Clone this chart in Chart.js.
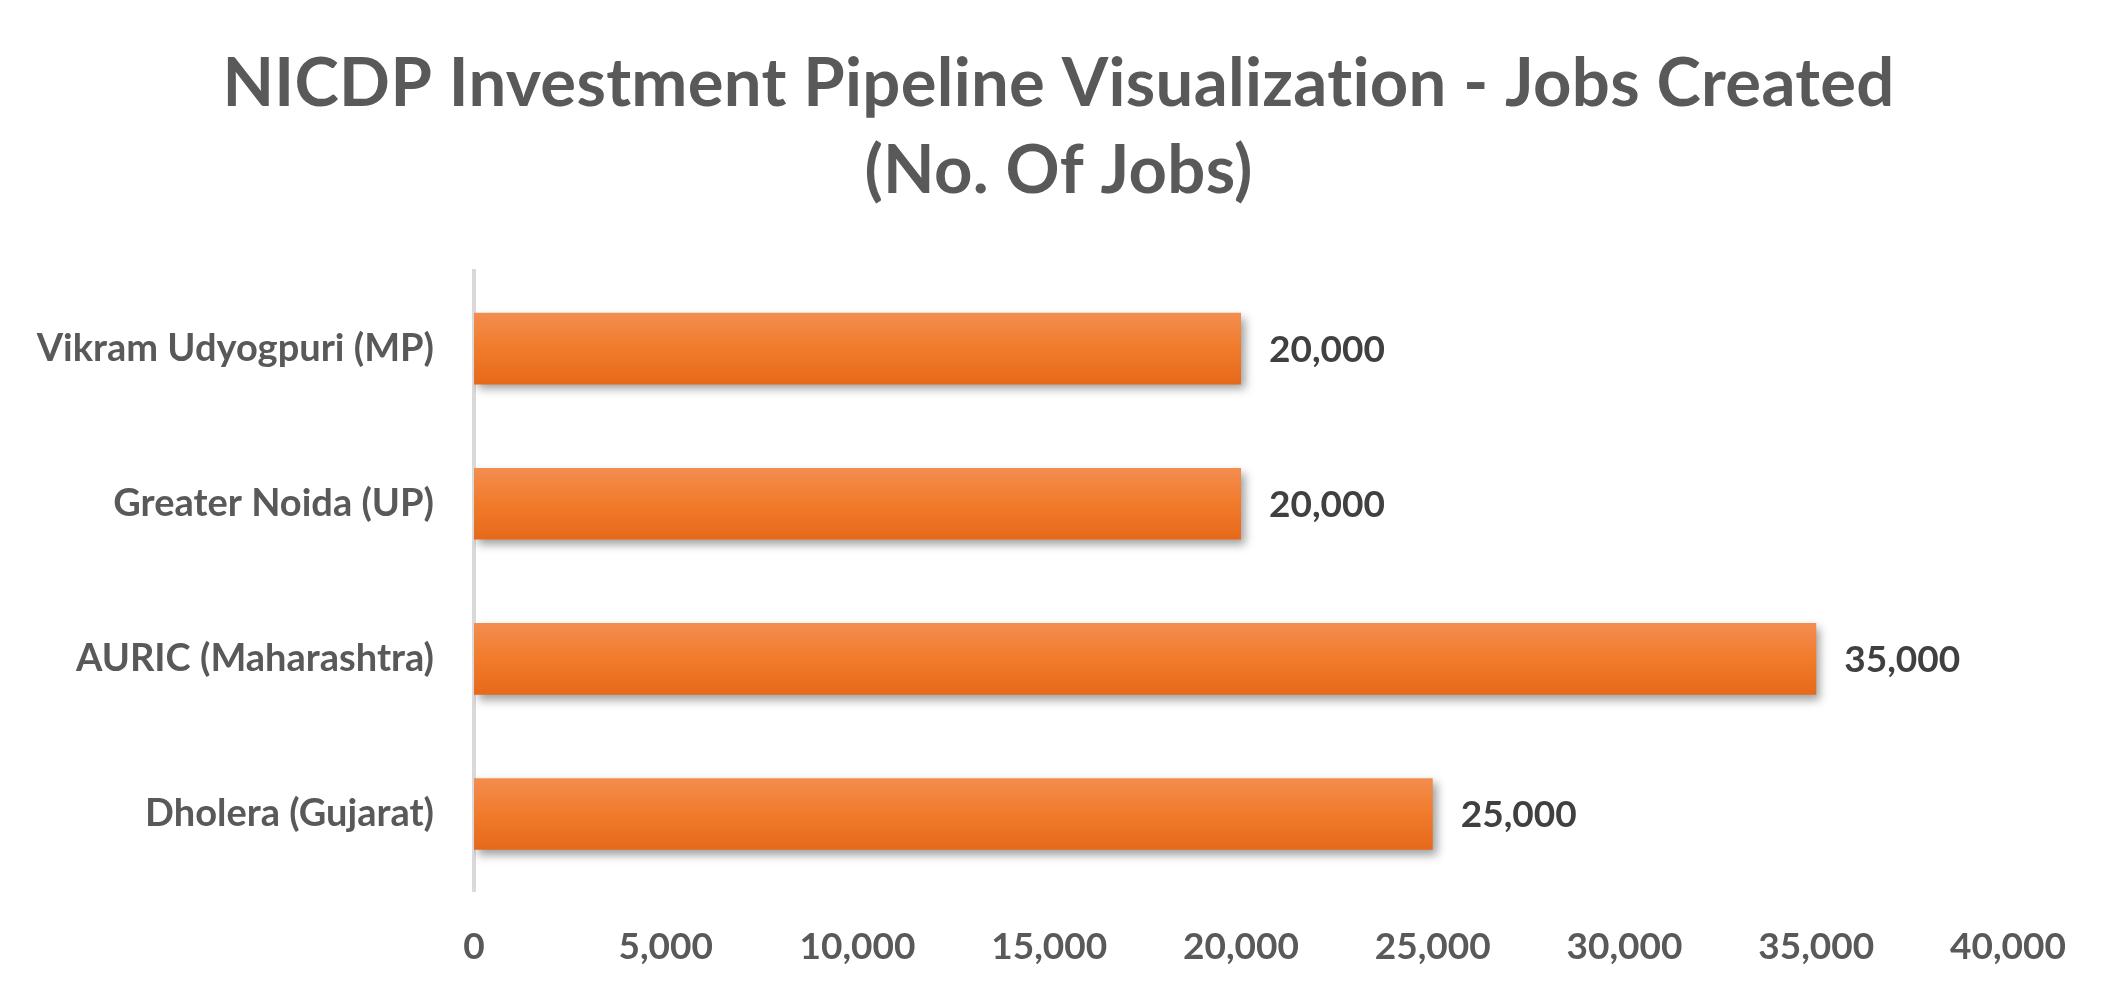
<!DOCTYPE html>
<html>
<head>
<meta charset="utf-8">
<script src="https://cdn.jsdelivr.net/npm/chart.js@4"></script>
<style>
  html, body { margin: 0; padding: 0; background: #ffffff; }
  #wrap { width: 2117px; height: 1002px; }
</style>
</head>
<body>
<div id="wrap"><canvas id="c" width="2117" height="1002"></canvas></div>
<script>
const categories = ["Vikram Udyogpuri (MP)", "Greater Noida (UP)", "AURIC (Maharashtra)", "Dholera (Gujarat)"];
const jobsCreated = [20000, 20000, 35000, 25000];
const titleLines = ["NICDP Investment Pipeline Visualization - Jobs Created", "(No. Of Jobs)"];
const xMin = 0, xMax = 40000, xStep = 5000;

function fmt(v) { return Number(v).toLocaleString('en-US'); }

const decorPlugin = {
  id: 'decor',
  beforeDatasetsDraw(chart) {
    const ctx = chart.ctx;
    ctx.save();
    ctx.shadowColor = 'rgba(0,0,0,0.38)';
    ctx.shadowBlur = 9;
    ctx.shadowOffsetX = 4;
    ctx.shadowOffsetY = 5;
  },
  afterDatasetsDraw(chart) {
    chart.ctx.restore();
    const ctx = chart.ctx;
    const meta = chart.getDatasetMeta(0);
    ctx.save();
    ctx.font = 'bold 37px Lato';
    ctx.fillStyle = '#404040';
    ctx.textAlign = 'left';
    ctx.textBaseline = 'middle';
    meta.data.forEach((el, i) => {
      ctx.fillText(fmt(chart.data.datasets[0].data[i]), el.x + 28, el.y + 1);
    });
    ctx.restore();
  },
  afterDraw(chart) {
    const ctx = chart.ctx;
    ctx.save();
    if ('letterSpacing' in ctx) ctx.letterSpacing = '0.3px';
    ctx.font = 'bold 67px Lato';
    ctx.fillStyle = '#595959';
    ctx.textAlign = 'center';
    ctx.textBaseline = 'middle';
    const cx = chart.width / 2;
    titleLines.forEach((t, i) => ctx.fillText(t, cx, 84 + i * 87));
    ctx.restore();
  }
};

function barGradient(context) {
  const chart = context.chart;
  const y = chart.scales && chart.scales.y;
  if (!chart.chartArea || !y || context.dataIndex === undefined) return '#F07B2C';
  const cy = y.getPixelForValue(context.dataIndex);
  const half = 36;
  const g = chart.ctx.createLinearGradient(0, cy - half, 0, cy + half);
  g.addColorStop(0, '#F38D50');
  g.addColorStop(0.5, '#F17B2B');
  g.addColorStop(1, '#E6691A');
  return g;
}

function build() {
  new Chart(document.getElementById('c'), {
    type: 'bar',
    data: {
      labels: categories,
      datasets: [{
        data: jobsCreated,
        backgroundColor: barGradient,
        borderWidth: 0,
        barPercentage: 0.462,
        categoryPercentage: 1.0
      }]
    },
    plugins: [decorPlugin],
    options: {
      indexAxis: 'y',
      responsive: false,
      animation: false,
      events: [],
      layout: { padding: { left: 0, right: 109, top: 271, bottom: 0 } },
      plugins: {
        legend: { display: false },
        tooltip: { enabled: false },
        title: { display: false }
      },
      scales: {
        x: {
          min: xMin,
          max: xMax,
          grid: { display: false, drawTicks: false },
          border: { display: false },
          ticks: {
            stepSize: xStep,
            color: '#595959',
            font: { family: 'Lato', weight: 'bold', size: 37, lineHeight: 1.2 },
            padding: 33,
            maxRotation: 0,
            callback: (v) => fmt(v)
          }
        },
        y: {
          grid: { display: false, drawTicks: false },
          border: { display: true, color: '#D9D9D9', width: 4 },
          afterFit(scale) { scale.width = 474; },
          ticks: {
            color: '#595959',
            font: { family: 'Lato', weight: 'bold', size: 38, lineHeight: 1.2 },
            padding: 40
          }
        }
      }
    }
  });
}

Promise.all([
  document.fonts.load('bold 67px Lato'),
  document.fonts.load('bold 37px Lato')
]).then(build, build);
</script>
</body>
</html>
